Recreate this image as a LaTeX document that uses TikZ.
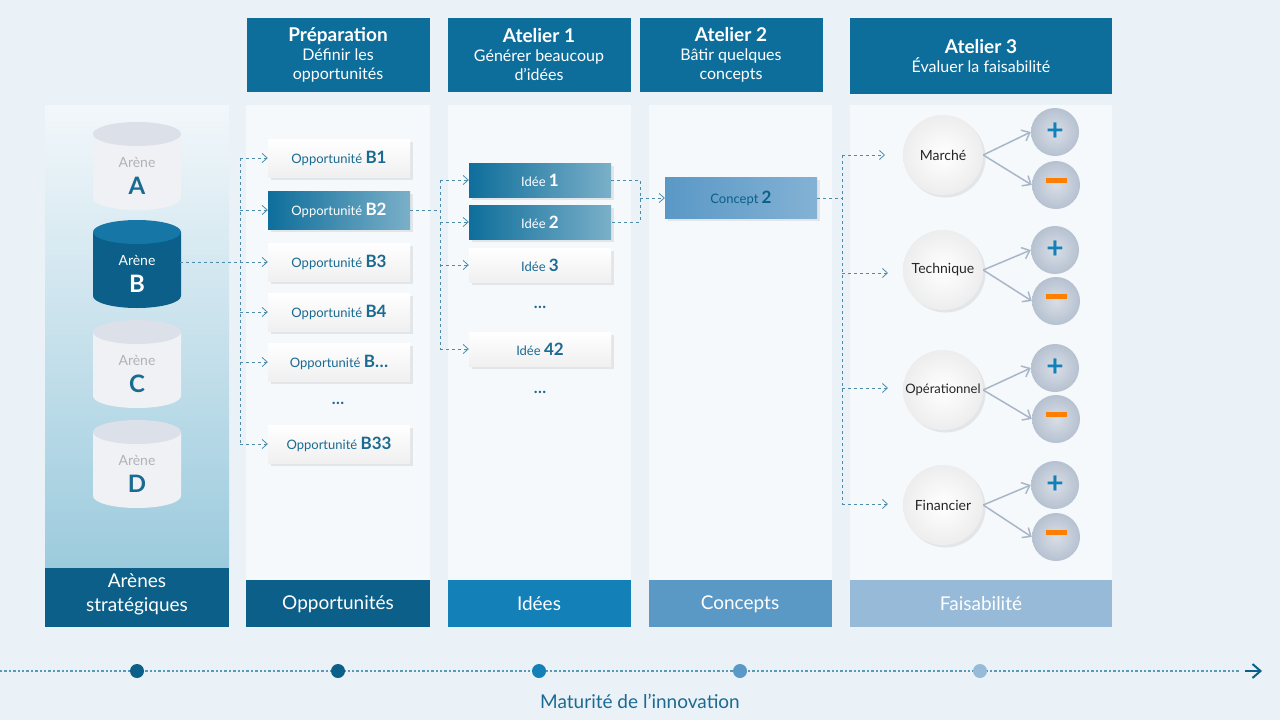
\documentclass[tikz,border=0pt]{standalone}
\usepackage{fontspec}
\setmainfont{Lato}
\usetikzlibrary{arrows.meta,shadows}
\definecolor{bg}{HTML}{EAF2F8}
\definecolor{hdr}{HTML}{0E6E9B}
\definecolor{dk}{HTML}{0B5F88}
\definecolor{txt}{HTML}{1A6A92}
\definecolor{dash}{HTML}{4C8CAA}
\definecolor{gr}{HTML}{A9B6C8}
\definecolor{cylw}{HTML}{F0F1F5}
\definecolor{cylwt}{HTML}{DCE0E8}
\definecolor{cylbt}{HTML}{1676A6}
\definecolor{fidee}{HTML}{1380B8}
\definecolor{fconc}{HTML}{5A98C6}
\definecolor{ffais}{HTML}{97BAD8}
\definecolor{col1}{HTML}{9CCBDD}
\tikzset{
 x=1pt,y=-1pt,
 hdr/.style={fill=hdr,text=white,align=center,font=\fontsize{16}{19}\selectfont,inner sep=0},
 foot/.style={text=white,align=center,font=\fontsize{19}{24}\selectfont,inner sep=0},
 panel/.style={fill=white,opacity=0.55,draw=none},
 boxbase/.style={minimum width=142pt,minimum height=38pt,inner sep=0,text=txt,font=\fontsize{13}{15}\selectfont,drop shadow={opacity=0.15}},
 box/.style={boxbase,top color=white,bottom color=gray!12},
 bbox/.style={boxbase,left color=hdr,right color=hdr!55,text=white},
 idea/.style={box,minimum height=34pt},
 bidea/.style={bbox,minimum height=34pt},
 dl/.style={draw=dash,dashed,line width=0.8pt},
 da/.style={dl,-{Straight Barb[length=5pt,width=9pt]}},
 big/.style={circle,minimum size=80pt,inner sep=0,inner color=white,outer color=gray!14,font=\fontsize{14}{16}\selectfont,text=black!85,drop shadow={opacity=0.15}},
 sm/.style={circle,minimum size=48pt,inner sep=0,inner color=gr!45,outer color=gr!85,font=\fontsize{30}{30}\selectfont\bfseries},
 ga/.style={draw=gr,line width=1.5pt,-{Straight Barb[length=7pt,width=12pt]}},
}
\newcommand{\cyl}[7]{% x y fill topfill textcol lettercol name
 \fill[#3] (#1-44,#2-32) -- (#1-44,#2+32) arc[start angle=180,end angle=0,x radius=44,y radius=12] -- (#1+44,#2-32) -- cycle;
 \fill[#4] (#1,#2-32) ellipse[x radius=44,y radius=12];
 \node[#5,font=\fontsize{14}{16}\selectfont] (ar#7) at (#1,#2-4) {Arène};
 \node[#6,font=\fontsize{24}{26}\selectfont\bfseries] (#7) at (#1,#2+20) {#7};
}
\begin{document}
\begin{tikzpicture}
\fill[bg] (0,0) rectangle (1280,720);
\useasboundingbox (0,0) rectangle (1280,720);
% columns
\shade[top color=bg!60!white,bottom color=col1] (45,105) rectangle (229,568);
\fill[dk] (45,568) rectangle (229,627);
\node[foot] at (137,594) {Arènes\\stratégiques};
\fill[panel] (246,105) rectangle (430,580);
\fill[panel] (448,105) rectangle (631,580);
\fill[panel] (649,105) rectangle (832,580);
\fill[panel] (850,105) rectangle (1112,580);
\fill[dk] (246,580) rectangle (430,627); \node[foot] at (338,604) {Opportunités};
\fill[fidee] (448,580) rectangle (631,627); \node[foot] at (539,604) {Idées};
\fill[fconc] (649,580) rectangle (832,627); \node[foot] at (740,604) {Concepts};
\fill[ffais] (850,580) rectangle (1112,627); \node[foot] at (981,604) {Faisabilité};
% headers
\node[hdr,minimum width=183pt,minimum height=74pt] (h1) at (338,55) {{\fontsize{19}{22}\selectfont\bfseries Préparation}\\Définir les\\opportunités};
\node[hdr,minimum width=183pt,minimum height=74pt] (h2) at (539,55) {{\fontsize{19}{22}\selectfont\bfseries Atelier 1}\\Générer beaucoup\\d’idées};
\node[hdr,minimum width=183pt,minimum height=74pt] (h3) at (731,55) {{\fontsize{19}{22}\selectfont\bfseries Atelier 2}\\Bâtir quelques\\concepts};
\node[hdr,minimum width=262pt,minimum height=76pt] (h4) at (981,56) {{\fontsize{19}{22}\selectfont\bfseries Atelier 3}\\Évaluer la faisabilité};
% cylinders
\cyl{137}{166}{cylw}{cylwt}{text=gray!60}{text=txt}{A}
\cyl{137}{264}{dk}{cylbt}{text=white}{text=white}{B}
\cyl{137}{364}{cylw}{cylwt}{text=gray!60}{text=txt}{C}
\cyl{137}{464}{cylw}{cylwt}{text=gray!60}{text=txt}{D}
% opportunities
\node[box] (o1) at (339,158) {Opportunité {\fontsize{17}{17}\selectfont\bfseries B1}};
\node[bbox] (o2) at (339,210) {Opportunité {\fontsize{17}{17}\selectfont\bfseries B2}};
\node[box] (o3) at (339,262) {Opportunité {\fontsize{17}{17}\selectfont\bfseries B3}};
\node[box] (o4) at (339,312) {Opportunité {\fontsize{17}{17}\selectfont\bfseries B4}};
\node[box] (o5) at (339,362) {Opportunité {\fontsize{17}{17}\selectfont\bfseries B…}};
\node[text=txt,font=\bfseries\fontsize{16}{16}\selectfont] (od) at (338,403) {…};
\node[box] (o33) at (339,444) {Opportunité {\fontsize{17}{17}\selectfont\bfseries B33}};
\coordinate (va) at (240,262);
\draw[dl] (180,262) -- (va);
\draw[dl] (240,158) -- (240,444);
\foreach \o in {o1,o2,o3,o4,o5,o33} \draw[da] (240,0 |- \o.west) -- (\o.west);
% ideas
\node[bidea] (i1) at (540,180) {Idée {\fontsize{17}{17}\selectfont\bfseries 1}};
\node[bidea] (i2) at (540,222) {Idée {\fontsize{17}{17}\selectfont\bfseries 2}};
\node[idea] (i3) at (540,265) {Idée {\fontsize{17}{17}\selectfont\bfseries 3}};
\node[text=txt,font=\bfseries\fontsize{16}{16}\selectfont] (id1) at (540,307) {…};
\node[idea] (i42) at (540,349) {Idée {\fontsize{17}{17}\selectfont\bfseries 42}};
\node[text=txt,font=\bfseries\fontsize{16}{16}\selectfont] (id2) at (540,392) {…};
\draw[dl] (o2.east) -- (440,210);
\draw[dl] (440,180) -- (440,349);
\foreach \o in {i1,i2,i3,i42} \draw[da] (440,0 |- \o.west) -- (\o.west);
% concept
\node[boxbase,minimum width=152pt,minimum height=41pt,left color=fconc,right color=fconc!75,text=dk] (c2) at (741,198) {Concept {\fontsize{17}{17}\selectfont\bfseries 2}};
\draw[dl] (i1.east) -- (640,180) -- (640,222) -- (i2.east);
\draw[da] (640,198) -- (c2.west);
% feasibility
\node[big] (m) at (943,155) {Marché};
\node[big] (t) at (943,270) {Technique};
\node[big] (op) at (943,390) {\fontsize{13}{15}\selectfont Opérationnel};
\node[big] (f) at (943,505) {Financier};
\draw[dl] (c2.east) -- (842,198);
\draw[dl] (842,155) -- (842,504);
\draw[da] (842,155) -- (885,155);
\draw[da] (842,273) -- (888,273);
\draw[da] (842,388) -- (888,388);
\draw[da] (842,504) -- (888,504);
\foreach \c/\yp/\ym in {m/132/185,t/250/301,op/368/419,f/485/537}{
 \node[sm,text=fidee] (\c p) at (1055,\yp) {+};
 \node[sm,text=orange] (\c m) at (1056,\ym) {\rule[0.28em]{0.7em}{0.16em}};
 \draw[ga] (\c.east) -- (\c p.west);
 \draw[ga] (\c.east) -- (\c m.west);
}
% timeline
\draw[dotted,line width=2.4pt,color=hdr!70!white] (0,671) -- (1240,671);
\draw[color=dk,line width=2pt,-{Straight Barb[length=8pt,width=14pt]}] (1245,671) -- (1262,671);
\foreach \xx/\cc in {137/dk,338/dk,539/fidee,740/fconc,980/ffais}
 \fill[\cc] (\xx,671) circle (7);
\node[text=txt,font=\fontsize{19}{22}\selectfont] (mat) at (640,701) {Maturité de l’innovation};
\end{tikzpicture}
\end{document}
